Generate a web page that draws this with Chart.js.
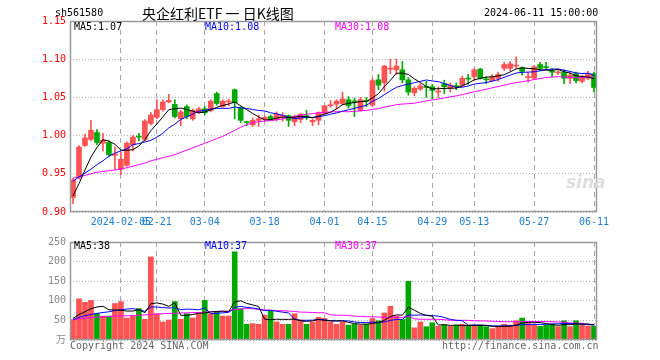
<!DOCTYPE html>
<html><head><meta charset="utf-8">
<script src="https://cdn.jsdelivr.net/npm/chart.js@4.4.1/dist/chart.umd.min.js"></script>
<style>
html,body{margin:0;padding:0;background:#fff;width:660px;height:360px;overflow:hidden;}
#wrap{position:relative;width:660px;height:360px;}
canvas{position:absolute;left:0;}
.t{position:absolute;font-family:'DejaVu Sans Mono',monospace;font-size:10px;line-height:12px;white-space:pre;}
.ttl{position:absolute;font-family:'Noto Sans CJK SC',sans-serif;font-size:14px;line-height:16px;white-space:pre;color:#000;}
</style></head><body>
<div id="wrap">
<canvas id="k" width="660" height="232" style="top:0"></canvas>
<canvas id="v" width="660" height="128" style="top:232px"></canvas>
<div class="t" style="left:55px;top:7px;color:#000">sh561580</div>
<div class="ttl" style="left:142px;top:5px">央企红利ETF 一 日K线图</div>
<div class="t" style="left:484px;top:7px;color:#000">2024-06-11 15:00:00</div>
<div class="t" style="left:74px;top:21px;color:#000">MA5:1.07</div>
<div class="t" style="left:205px;top:21px;color:#0000ff">MA10:1.08</div>
<div class="t" style="left:335px;top:21px;color:#ff00ff">MA30:1.08</div>
<div class="t" style="left:74px;top:240px;color:#000">MA5:38</div>
<div class="t" style="left:205px;top:240px;color:#0000ff">MA10:37</div>
<div class="t" style="left:335px;top:240px;color:#ff00ff">MA30:37</div>
<div class="t" style="left:70px;top:340px;color:#666">Copyright 2024 SINA.COM</div>
<div class="t" style="left:442px;top:340px;color:#666">http://finance.sina.com.cn</div>
<div class="t" style="left:566px;top:176px;color:#ddd;font-size:17px;font-style:italic;font-weight:bold;font-family:'DejaVu Sans',sans-serif">sina</div>
</div>
<script>
// ---- data ----
const dates = [
'2024-01-24','2024-01-25','2024-01-26','2024-01-29','2024-01-30','2024-01-31',
'2024-02-01','2024-02-02','2024-02-05','2024-02-06','2024-02-07','2024-02-08','2024-02-19','2024-02-20','2024-02-21','2024-02-22','2024-02-23','2024-02-26','2024-02-27','2024-02-28','2024-02-29',
'2024-03-01','2024-03-04','2024-03-05','2024-03-06','2024-03-07','2024-03-08','2024-03-11','2024-03-12','2024-03-13','2024-03-14','2024-03-15','2024-03-18','2024-03-19','2024-03-20','2024-03-21','2024-03-22','2024-03-25','2024-03-26','2024-03-27','2024-03-28','2024-03-29',
'2024-04-01','2024-04-02','2024-04-03','2024-04-08','2024-04-09','2024-04-10','2024-04-11','2024-04-12','2024-04-15','2024-04-16','2024-04-17','2024-04-18','2024-04-19','2024-04-22','2024-04-23','2024-04-24','2024-04-25','2024-04-26','2024-04-29','2024-04-30',
'2024-05-06','2024-05-07','2024-05-08','2024-05-09','2024-05-10','2024-05-13','2024-05-14','2024-05-15','2024-05-16','2024-05-17','2024-05-20','2024-05-21','2024-05-22','2024-05-23','2024-05-24','2024-05-27','2024-05-28','2024-05-29','2024-05-30','2024-05-31',
'2024-06-03','2024-06-04','2024-06-05','2024-06-06','2024-06-07','2024-06-11'];

const openP = [0.919,0.945,0.987,0.995,1.004,0.990,0.991,0.974,0.956,0.961,0.988,0.999,0.995,1.016,1.024,1.034,1.044,1.041,1.022,1.038,1.022,1.031,1.035,1.033,1.055,1.038,1.044,1.060,1.036,1.018,1.014,1.020,1.022,1.025,1.021,1.025,1.026,1.018,1.021,1.026,1.018,1.020,1.029,1.039,1.041,1.042,1.047,1.045,1.033,1.046,1.040,1.073,1.069,1.087,1.086,1.086,1.073,1.056,1.061,1.064,1.064,1.057,1.068,1.062,1.065,1.066,1.075,1.077,1.087,1.074,1.072,1.075,1.088,1.088,1.091,1.089,1.076,1.075,1.093,1.090,1.084,1.082,1.083,1.075,1.081,1.071,1.075,1.081];
const highP = [0.944,0.987,1.002,1.020,1.008,1.003,0.993,0.985,0.978,0.992,1.000,1.003,1.021,1.030,1.047,1.047,1.054,1.047,1.033,1.040,1.035,1.037,1.038,1.047,1.057,1.047,1.048,1.061,1.038,1.019,1.023,1.027,1.026,1.027,1.031,1.030,1.027,1.027,1.029,1.033,1.022,1.031,1.040,1.046,1.047,1.057,1.051,1.049,1.050,1.050,1.075,1.080,1.092,1.100,1.100,1.097,1.076,1.064,1.068,1.071,1.067,1.064,1.0725,1.069,1.069,1.078,1.080,1.088,1.088,1.077,1.080,1.083,1.096,1.097,1.103,1.090,1.083,1.092,1.096,1.096,1.088,1.085,1.086,1.083,1.083,1.079,1.084,1.083];
const lowP = [0.911,0.943,0.986,0.993,0.988,0.980,0.972,0.955,0.949,0.960,0.980,0.993,0.993,1.014,1.022,1.032,1.043,1.023,1.013,1.022,1.020,1.029,1.027,1.031,1.040,1.037,1.039,1.022,1.017,1.013,1.012,1.012,1.020,1.020,1.019,1.019,1.012,1.013,1.017,1.021,1.013,1.014,1.028,1.037,1.035,1.040,1.036,1.025,1.032,1.038,1.038,1.060,1.058,1.081,1.080,1.069,1.053,1.052,1.059,1.050,1.048,1.050,1.055,1.057,1.060,1.064,1.067,1.072,1.074,1.068,1.071,1.071,1.085,1.085,1.088,1.079,1.070,1.074,1.085,1.087,1.077,1.080,1.068,1.068,1.069,1.069,1.073,1.057];
const closeP = [0.942,0.985,0.997,1.007,0.991,0.994,0.975,0.976,0.969,0.990,0.998,0.998,1.019,1.027,1.034,1.044,1.046,1.025,1.031,1.025,1.033,1.035,1.030,1.045,1.042,1.045,1.045,1.043,1.020,1.017,1.020,1.022,1.024,1.021,1.028,1.026,1.020,1.025,1.028,1.024,1.020,1.030,1.039,1.040,1.045,1.048,1.039,1.044,1.047,1.045,1.072,1.066,1.091,1.088,1.091,1.073,1.057,1.062,1.065,1.063,1.059,1.058,1.064,1.066,1.064,1.075,1.074,1.086,1.075,1.073,1.077,1.080,1.093,1.094,1.092,1.084,1.077,1.090,1.088,1.089,1.083,1.083,1.075,1.079,1.072,1.077,1.081,1.063];
const volume = [52,105,96,101,67,61,61,93,98,56,61,80,53,212,67,46,51,98,53,67,56,67,101,67,73,61,61,225,80,40,42,40,63,74,46,40,40,67,51,40,46,58,55,46,40,46,38,40,38,40,55,49,69,86,61,52,150,31,46,34,44,35,38,35,38,40,35,38,38,34,29,34,40,38,49,56,42,40,35,38,40,34,49,34,49,38,35,35];

// moving-average values at the start of the window (earlier history not shown)
const ma5Head = [0.921,0.937,0.955,0.972];
const ma10Head = [0.940,0.946,0.951,0.956,0.962,0.967,0.973,0.977,0.980];
const ma30Head = [0.944,0.946,0.948,0.950,0.952,0.953,0.954,0.955,0.956,0.958,0.960,0.962,0.964,0.967,0.969,0.971,0.973,0.975,0.978,0.981,0.984,0.987,0.990,0.993,0.996,0.999,1.003,1.007,1.011];
const vma5Head = [55,65,72,80];
const vma10Head = [52,58,62,65,68,70,72,75,77];
const vma30Head = [52,54,56,57,58,59,60,61,61,62,62,63,64,65,66,67,68,68,69,69,70,70,71,72,72,73,73,78,79];

const tickDates = ['2024-02-05','2024-02-21','2024-03-04','2024-03-18','2024-04-01','2024-04-15','2024-04-29','2024-05-13','2024-05-27','2024-06-11'];
const priceTicks = [0.90,0.95,1.00,1.05,1.10,1.15];
const volTicks = [0,50,100,150,200,250];

// ---- derived ----
function movAvg(vals, n, head){
  return vals.map((v,i)=>{
    if(i < n-1) return head[i];
    let s=0; for(let k=i-n+1;k<=i;k++) s+=vals[k];
    return s/n;
  });
}
const UP='#ff5252', DOWN='#00a800';
const colors = closeP.map((c,i)=> c>=openP[i] ? UP : DOWN);
const bodies = closeP.map((c,i)=>[Math.min(c,openP[i]), Math.max(c,openP[i])]);
const wicks = highP.map((h,i)=>[lowP[i], h]);
const tickIdx = tickDates.map(d=>dates.indexOf(d));

const MONO = "'DejaVu Sans Mono', monospace";
const frame = {id:'frame', afterDraw(chart){
  const {ctx, chartArea:a} = chart; ctx.save();
  ctx.strokeStyle='#9a9a9a'; ctx.lineWidth=1.5;
  ctx.strokeRect(Math.round(a.left)+0.5, Math.round(a.top)+0.5, Math.round(a.right-a.left)-1, Math.round(a.bottom-a.top)-1);
  ctx.restore();
}};
const xGridColor = c => tickIdx.includes(c.index) ? '#a8a8a8' : 'rgba(0,0,0,0)';
function lineDs(label, data, color){
  return {type:'line', label, data, borderColor:color, borderWidth:1, pointRadius:0, tension:0, order:0, fill:false};
}

new Chart(document.getElementById('k'), {
  type:'bar',
  data:{labels:dates, datasets:[
    lineDs('MA5', movAvg(closeP,5,ma5Head), '#000000'),
    lineDs('MA10', movAvg(closeP,10,ma10Head), '#0000ff'),
    lineDs('MA30', movAvg(closeP,30,ma30Head), '#ff00ff'),
    {label:'body', data:bodies, backgroundColor:colors, barThickness:5, grouped:false, minBarLength:1, order:1},
    {label:'wick', data:wicks, backgroundColor:colors, barThickness:1, grouped:false, order:2}
  ]},
  options:{
    responsive:false, animation:false, devicePixelRatio:1,
    layout:{padding:{top:21,right:63,left:0,bottom:0}},
    plugins:{legend:{display:false}, tooltip:{enabled:false}},
    scales:{
      x:{offset:true, grid:{offset:false, color:xGridColor, drawTicks:false}, border:{display:false, dash:[5,4]},
         ticks:{autoSkip:false, maxRotation:0, minRotation:0, padding:4, color:'#1f7fd0', font:{family:MONO,size:10},
           callback:(v,i)=>{const k=tickIdx.indexOf(i); if(k<0) return ''; return k===0? tickDates[k] : tickDates[k].slice(5);}},
         afterFit:s=>{s.height=20;}},
      y:{min:0.90, max:1.15, afterBuildTicks:s=>{s.ticks=priceTicks.map(v=>({value:v}));},
         grid:{color:'#b0b0b0', drawTicks:false}, border:{display:false, dash:[1,2]},
         ticks:{padding:4, color:'#ff0000', font:{family:MONO,size:10}, callback:v=>Number(v).toFixed(2)},
         afterFit:s=>{s.width=70;}}
    }
  },
  plugins:[frame]
});

new Chart(document.getElementById('v'), {
  type:'bar',
  data:{labels:dates, datasets:[
    lineDs('MA5', movAvg(volume,5,vma5Head), '#000000'),
    lineDs('MA10', movAvg(volume,10,vma10Head), '#0000ff'),
    lineDs('MA30', movAvg(volume,30,vma30Head), '#ff00ff'),
    {label:'vol', data:volume, backgroundColor:colors, barThickness:5, order:1}
  ]},
  options:{
    responsive:false, animation:false, devicePixelRatio:1,
    layout:{padding:{top:9,right:63,left:0,bottom:0}},
    plugins:{legend:{display:false}, tooltip:{enabled:false}},
    scales:{
      x:{offset:true, grid:{offset:false, color:xGridColor, drawTicks:false}, border:{display:false, dash:[5,4]},
         ticks:{display:false}, afterFit:s=>{s.height=20;}},
      y:{min:0, max:250, afterBuildTicks:s=>{s.ticks=volTicks.map(v=>({value:v}));},
         grid:{color:'#b0b0b0', drawTicks:false}, border:{display:false, dash:[1,2]},
         ticks:{padding:4, color:'#888888', font:{family:MONO+", 'Noto Sans CJK SC'",size:10}, callback:v=> v===0 ? '万' : String(v)},
         afterFit:s=>{s.width=70;}}
    }
  },
  plugins:[frame]
});
</script>
</body></html>
